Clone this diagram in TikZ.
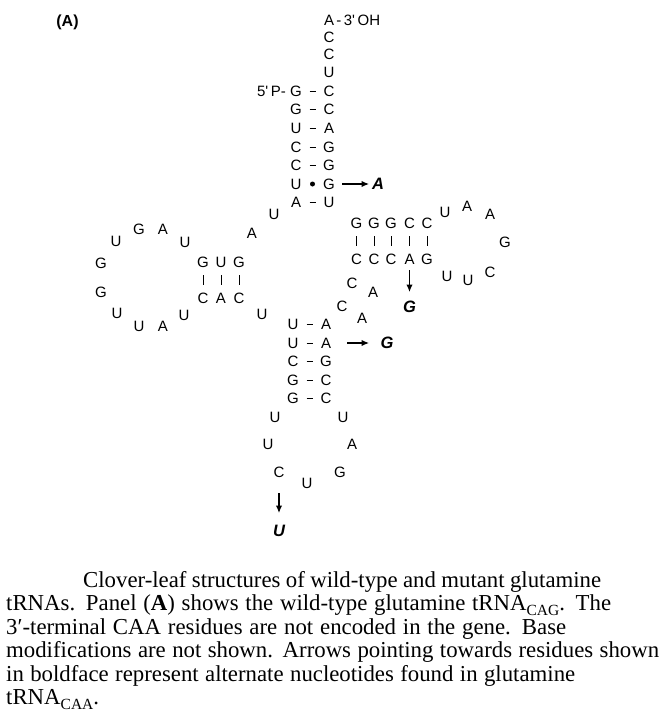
\documentclass[tikz,border=0pt]{standalone}
\usepackage{fontspec}
\setmainfont{Liberation Serif}
\newfontfamily\dsans{Liberation Sans}
\usetikzlibrary{arrows.meta}
\newcommand{\capsub}[1]{\raisebox{-5pt}{\fontsize{15.5}{15.5}\selectfont #1}}
\begin{document}
\begin{tikzpicture}[x=1pt,y=-1pt,
  nt/.style={font=\dsans\fontsize{15}{15}\selectfont, inner sep=0pt, text height=10.7pt, text depth=0pt},
  mt/.style={font=\dsans\bfseries\itshape\fontsize{16.5}{16.5}\selectfont, inner sep=0pt, text height=11.8pt, text depth=0pt},
  bp/.style={line width=1pt, shorten <=13.5pt, shorten >=13.5pt},
  bar/.style={line width=1pt, shorten <=13pt, shorten >=13pt},
  mut/.style={line width=1.2pt, -{Latex[length=7.5pt,width=6.5pt]}},
  captxt/.style={anchor=base west, inner sep=0pt, font=\fontsize{22.8}{23.5}\selectfont}
]
\useasboundingbox[fill=white] (0,0) rectangle (668,726);

% panel label
\node[font=\dsans\bfseries\fontsize{16}{16}\selectfont, inner sep=0pt] (panel) at (67.5,22) {(A)};

% acceptor stem
\node[nt] (a76) at (329,20) {A};
\node[nt, anchor=west] (oh) at ([xshift=2pt]a76.east) {-\,3'\,OH};
\node[nt] (a75) at (329,37) {C};
\node[nt] (a74) at (329,54.5) {C};
\node[nt] (a73) at (329,72.5) {U};
\node[nt] (l1) at (296,91) {G};     \node[nt] (r1) at (329,91) {C};
\node[nt] (l2) at (296,109.5) {G};  \node[nt] (r2) at (329,109.5) {C};
\node[nt] (l3) at (296,128.5) {U};  \node[nt] (r3) at (329,128.5) {A};
\node[nt] (l4) at (296,147) {C};    \node[nt] (r4) at (329,147) {G};
\node[nt] (l5) at (296,165.5) {C};  \node[nt] (r5) at (329,165.5) {G};
\node[nt] (l6) at (296,184) {U};    \node[nt] (r6) at (329,184) {G};
\node[nt] (l7) at (296,202) {A};    \node[nt] (r7) at (329,202) {U};
\node[nt, anchor=east] (fivep) at ([xshift=-4pt]l1.west) {5'\,P-};
\foreach \i in {1,2,3,4,5,7} {\draw[bp] (l\i.center) -- (r\i.center);}
\path (l6.center) -- (r6.center) node[midway, circle, fill, inner sep=0pt, minimum size=5pt] (dot) {};
\node[mt] (mA) at (378,184) {A};
\draw[mut, shorten <=13pt, shorten >=9pt] (r6.center) -- (mA.center);

% junction
\node[nt] (j8) at (274,214) {U};
\node[nt] (j9) at (252,233) {A};

% D arm
\node[nt] (d1) at (203,262) {G}; \node[nt] (d2) at (221,262) {U}; \node[nt] (d3) at (239,262) {G};
\node[nt] (e1) at (203,298) {C}; \node[nt] (e2) at (221,298) {A}; \node[nt] (e3) at (239,298) {C};
\foreach \i in {1,2,3} {\draw[bar] (d\i.center) -- (e\i.center);}
\node[nt] (dl1) at (185,242) {U};
\node[nt] (dl2) at (163,229) {A};
\node[nt] (dl3) at (139,229) {G};
\node[nt] (dl4) at (116,241) {U};
\node[nt] (dl5) at (101,263) {G};
\node[nt] (dl6) at (101,292) {G};
\node[nt] (dl7) at (117,313) {U};
\node[nt] (dl8) at (139,326) {U};
\node[nt] (dl9) at (163,326) {A};
\node[nt] (dl10) at (184,315) {U};
\node[nt] (v26) at (262,314) {U};

% anticodon arm
\node[nt] (al1) at (293,324) {U};   \node[nt] (ar1) at (326,324) {A};
\node[nt] (al2) at (293,343) {U};   \node[nt] (ar2) at (326,343) {A};
\node[nt] (al3) at (293,361.5) {C}; \node[nt] (ar3) at (326,361.5) {G};
\node[nt] (al4) at (293,380) {G};   \node[nt] (ar4) at (326,380) {C};
\node[nt] (al5) at (293,398) {G};   \node[nt] (ar5) at (326,398) {C};
\foreach \i in {1,...,5} {\draw[bp] (al\i.center) -- (ar\i.center);}
\node[mt] (mG2) at (387,343) {G};
\draw[mut, shorten <=21pt, shorten >=18pt] (ar2.center) -- (mG2.center);
\node[nt] (ac1) at (275,417) {U};
\node[nt] (ac2) at (268,444) {U};
\node[nt] (ac3) at (279,472) {C};
\node[nt] (ac4) at (307,483) {U};
\node[nt] (ac5) at (340,472) {G};
\node[nt] (ac6) at (352,444) {A};
\node[nt] (ac7) at (343,417) {U};
\node[mt] (mU) at (279,531) {U};
\draw[mut, shorten <=21pt, shorten >=18pt] (ac3.center) -- (mU.center);

% variable loop
\node[nt] (v1) at (342,306) {C};
\node[nt] (v2) at (362,318) {A};
\node[nt] (v3) at (352,283) {C};
\node[nt] (v4) at (373,292) {A};

% T arm
\node[nt] (t1) at (356.5,223) {G}; \node[nt] (t2) at (374,223) {G}; \node[nt] (t3) at (391,223) {G};
\node[nt] (t4) at (409.5,223) {C}; \node[nt] (t5) at (427,223) {C};
\node[nt] (u1) at (356.5,259) {C}; \node[nt] (u2) at (374,259) {C}; \node[nt] (u3) at (391,259) {C};
\node[nt] (u4) at (409.5,259) {A}; \node[nt] (u5) at (427,259) {G};
\foreach \i in {1,...,5} {\draw[bar] (t\i.center) -- (u\i.center);}
\node[mt] (mG1) at (409.5,307) {G};
\draw[mut, shorten <=11pt, shorten >=15pt] (u4.center) -- (mG1.center);
\node[nt] (tl1) at (445,212) {U};
\node[nt] (tl2) at (467,206) {A};
\node[nt] (tl3) at (490,214) {A};
\node[nt] (tl4) at (505,242) {G};
\node[nt] (tl5) at (490,272) {C};
\node[nt] (tl6) at (468,280) {U};
\node[nt] (tl7) at (447,276) {U};

% caption
\node[captxt] (c1) at (83,587) {\makebox[518pt][s]{Clover-leaf structures of wild-type and mutant glutamine}};
\node[captxt] (c2) at (6,610.5) {\makebox[605pt][s]{tRNAs. Panel (\textbf{A}) shows the wild-type glutamine tRNA\capsub{CAG}. The}};
\node[captxt] (c3) at (6,634) {\makebox[560pt][s]{3′-terminal CAA residues are not encoded in the gene. Base}};
\node[captxt] (c4) at (6,657.5) {\makebox[653pt][s]{modifications are not shown. Arrows pointing towards residues shown}};
\node[captxt] (c5) at (6,681) {\makebox[569pt][s]{in boldface represent alternate nucleotides found in glutamine}};
\node[captxt] (c6) at (6,704.5) {tRNA\capsub{CAA}.};
\end{tikzpicture}
\end{document}
